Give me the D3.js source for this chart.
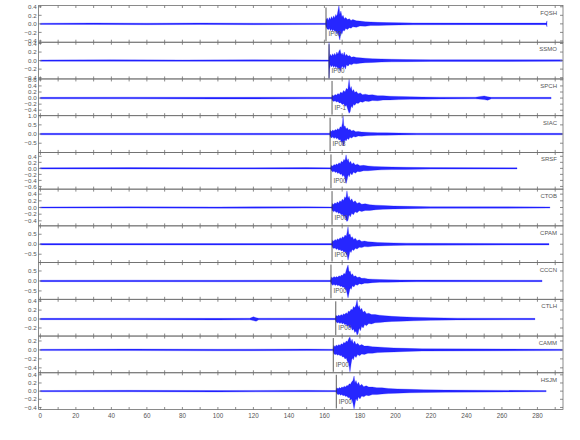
<!DOCTYPE html>
<html>
<head>
<meta charset="utf-8">
<script src="https://cdn.jsdelivr.net/npm/d3@7"></script>
<style>
  body { margin: 0; background: #fff; }
  svg text { font-family: "Liberation Sans", Arial, sans-serif; }
</style>
</head>
<body>
<div id="chart"></div>
<script>
// station names, top to bottom
const stations = ['FQSH', 'SSMO', 'SPCH', 'SIAC', 'SRSF', 'CTOB', 'CPAM', 'CCCN', 'CTLH', 'CAMM', 'HSJM'];

// y limits of each panel [min, max]
const yLimits = [
    [-0.43, 0.43], [-0.43, 0.43], [-0.58, 0.63], [-1.0, 1.0], [-0.69, 0.53], [-0.55, 0.55],
    [-0.92, 0.92], [-0.92, 0.92], [-0.38, 0.44], [-0.51, 0.31], [-0.45, 0.45]
];

// y tick labels of each panel
const yTicks = [
    [0.4, 0.2, 0, -0.2, -0.4], [0.4, 0.2, 0, -0.2, -0.4], [0.6, 0.4, 0.2, 0, -0.2, -0.4],
    [1.0, 0.5, 0, -0.5], [0.4, 0.2, 0, -0.2, -0.4, -0.6], [0.4, 0.2, 0, -0.2, -0.4],
    [0.5, 0, -0.5], [0.5, 0, -0.5], [0.4, 0.2, 0, -0.2], [0.2, 0, -0.2, -0.4], [0.4, 0.2, 0, -0.2, -0.4]
];

// P arrival picks (seconds) and their labels
const pickTimes = [160.9, 162.6, 164.3, 163.2, 163.7, 164.3, 164.3, 163.7, 166.4, 165.0, 166.7];
const pickLabels = ['IP00', 'IP00', 'IP-1', 'IP08', 'IP00', 'IP00', 'IP00', 'IP00', 'IP00', 'IP00', 'IP00'];

const xTickLabels = [0, 20, 40, 60, 80, 100, 120, 140, 160, 180, 200, 220, 240, 260, 280];

// trace envelopes: [time, upper, lower]
const traceFQSH = [[0,.015,-.015],[30,.02,-.015],[60,.015,-.02],[90,.02,-.015],[120,.015,-.02],[160.7,.015,-.015],[161,.1,-.08],[161.6,.14,-.12],[162.2,.08,-.14],[162.8,.15,-.1],[163.4,.1,-.16],[164,.17,-.12],[164.6,.12,-.17],[165.2,.19,-.13],[165.8,.14,-.18],[166.4,.22,-.16],[167,.18,-.24],[167.6,.3,-.2],[168.2,.43,-.3],[168.7,.22,-.38],[169.3,.3,-.2],[169.9,.16,-.24],[170.5,.2,-.15],[171.2,.12,-.17],[172,.15,-.11],[173,.1,-.13],[174,.12,-.09],[175,.08,-.1],[176,.1,-.07],[178,.07,-.08],[180,.065,-.05],[183,.05,-.055],[186,.045,-.04],[190,.035,-.04],[195,.03,-.03],[202,.028,-.025],[210,.022,-.022],[240,.018,-.018],[285,.018,-.018],[285.4,.07,-.07]];
const traceSSMO = [[0,.015,-.015],[40,.018,-.015],[80,.015,-.018],[120,.018,-.015],[162.4,.015,-.015],[162.6,.43,-.43],[162.9,.08,-.2],[163.4,.15,-.1],[164,.1,-.15],[164.6,.16,-.11],[165.2,.12,-.16],[165.8,.17,-.12],[166.4,.12,-.17],[167,.2,-.13],[167.6,.15,-.2],[168.2,.22,-.16],[168.8,.26,-.25],[169.4,.14,-.2],[170,.18,-.12],[170.6,.12,-.18],[171.2,.2,-.13],[171.8,.11,-.2],[172.5,.15,-.1],[173.3,.1,-.13],[174.2,.12,-.08],[175.2,.08,-.1],[176.5,.09,-.07],[178,.07,-.075],[180,.065,-.06],[183,.055,-.05],[187,.045,-.045],[192,.04,-.035],[198,.032,-.03],[206,.025,-.025],[220,.02,-.02],[294,.018,-.018]];
const traceSPCH = [[0,.025,-.025],[50,.03,-.025],[100,.025,-.03],[150,.03,-.025],[164.1,.025,-.025],[164.5,.1,-.08],[165.2,.07,-.11],[166,.12,-.09],[166.8,.09,-.13],[167.6,.15,-.11],[168.4,.12,-.16],[169.2,.2,-.15],[170,.16,-.21],[170.8,.25,-.19],[171.6,.2,-.27],[172.4,.32,-.24],[173.2,.28,-.38],[173.9,.62,-.5],[174.5,.3,-.45],[175.1,.38,-.26],[175.7,.22,-.32],[176.4,.28,-.2],[177.1,.18,-.24],[178,.22,-.16],[179,.14,-.18],[180.2,.17,-.12],[181.5,.11,-.14],[183,.13,-.1],[185,.1,-.11],[187,.11,-.08],[190,.08,-.09],[193,.08,-.065],[197,.06,-.06],[202,.055,-.05],[208,.045,-.04],[215,.035,-.035],[225,.03,-.03],[245,.028,-.025],[250,.07,-.05],[252,.04,-.07],[254,.025,-.025],[287.7,.025,-.025]];
const traceSIAC = [[0,.04,-.04],[60,.045,-.04],[120,.04,-.045],[163,.04,-.04],[163.4,.2,-.16],[164,.14,-.22],[164.7,.22,-.15],[165.4,.16,-.24],[166.1,.25,-.18],[166.8,.2,-.26],[167.5,.3,-.22],[168.2,.24,-.32],[168.9,.4,-.3],[169.6,.35,-.45],[170.2,.6,-.4],[170.5,1.0,-.65],[171,.4,-.55],[171.6,.45,-.3],[172.2,.28,-.38],[172.9,.34,-.24],[173.6,.22,-.3],[174.4,.26,-.18],[175.3,.17,-.22],[176.4,.2,-.14],[177.6,.13,-.16],[179,.14,-.11],[181,.11,-.12],[183.5,.1,-.09],[186,.09,-.085],[190,.075,-.07],[195,.065,-.06],[202,.055,-.05],[212,.045,-.045],[294,.04,-.04]];
const traceSRSF = [[0,.02,-.02],[50,.025,-.02],[100,.02,-.025],[150,.025,-.02],[163.5,.02,-.02],[164,.1,-.08],[164.7,.07,-.12],[165.4,.13,-.09],[166.1,.1,-.14],[166.8,.15,-.11],[167.5,.12,-.17],[168.2,.19,-.14],[168.9,.15,-.2],[169.6,.24,-.18],[170.3,.2,-.27],[171,.3,-.22],[171.6,.25,-.35],[172.2,.45,-.5],[172.8,.25,-.38],[173.4,.32,-.2],[174,.18,-.28],[174.7,.24,-.15],[175.5,.14,-.22],[176.4,.19,-.12],[177.4,.11,-.16],[178.6,.14,-.1],[180,.09,-.11],[182,.1,-.08],[184.5,.08,-.08],[188,.065,-.06],[192,.055,-.05],[198,.045,-.04],[206,.035,-.035],[220,.025,-.025],[268.5,.02,-.02]];
const traceCTOB = [[0,.018,-.018],[50,.02,-.018],[100,.018,-.02],[150,.02,-.018],[164.1,.018,-.018],[164.5,.12,-.1],[165.2,.09,-.13],[165.9,.14,-.1],[166.6,.11,-.15],[167.3,.17,-.13],[168,.13,-.18],[168.7,.2,-.16],[169.4,.17,-.22],[170.1,.25,-.2],[170.8,.21,-.27],[171.5,.32,-.25],[172.1,.28,-.36],[172.7,.5,-.42],[173.3,.28,-.38],[173.9,.34,-.22],[174.6,.2,-.28],[175.4,.26,-.17],[176.3,.16,-.22],[177.3,.2,-.13],[178.4,.12,-.16],[179.6,.15,-.1],[181,.1,-.12],[183,.11,-.09],[185.5,.085,-.09],[189,.07,-.065],[193,.06,-.055],[199,.045,-.045],[207,.035,-.035],[220,.025,-.025],[287,.018,-.018]];
const traceCPAM = [[0,.035,-.035],[50,.04,-.035],[100,.035,-.04],[150,.04,-.035],[164.1,.035,-.035],[164.6,.2,-.17],[165.3,.15,-.22],[166,.24,-.18],[166.7,.19,-.26],[167.4,.28,-.22],[168.1,.23,-.3],[168.8,.33,-.26],[169.5,.27,-.34],[170.2,.38,-.3],[170.9,.33,-.4],[171.6,.46,-.36],[172.3,.4,-.5],[172.8,.6,-.55],[173.3,.88,-.8],[173.8,.45,-.62],[174.4,.52,-.34],[175,.32,-.42],[175.7,.38,-.26],[176.5,.24,-.32],[177.4,.3,-.2],[178.4,.18,-.24],[179.6,.22,-.15],[181,.14,-.17],[182.6,.16,-.12],[184.5,.12,-.13],[187,.11,-.1],[190,.09,-.09],[194,.08,-.075],[199,.065,-.06],[206,.055,-.05],[215,.045,-.045],[286.5,.035,-.035]];
const traceCCCN = [[0,.035,-.035],[50,.04,-.035],[100,.035,-.04],[150,.04,-.035],[163.5,.035,-.035],[164,.2,-.16],[164.7,.15,-.22],[165.4,.22,-.17],[166.1,.17,-.23],[166.8,.22,-.18],[167.5,.18,-.24],[168.2,.26,-.2],[168.9,.22,-.28],[169.6,.3,-.25],[170.3,.27,-.32],[171,.38,-.3],[171.7,.34,-.42],[172.4,.58,-.48],[173.3,.8,-.85],[173.9,.45,-.6],[174.5,.5,-.35],[175.1,.3,-.42],[175.8,.36,-.24],[176.6,.22,-.3],[177.5,.26,-.18],[178.5,.17,-.22],[179.7,.2,-.14],[181,.13,-.16],[182.6,.14,-.11],[184.5,.1,-.11],[187,.09,-.085],[191,.075,-.07],[196,.06,-.06],[203,.05,-.05],[212,.045,-.04],[282.6,.035,-.035]];
const traceCTLH = [[0,.015,-.015],[50,.02,-.015],[100,.015,-.02],[118,.018,-.018],[120,.05,-.035],[121.5,.03,-.05],[123,.018,-.018],[150,.02,-.015],[166.2,.015,-.015],[166.6,.08,-.06],[167.3,.06,-.09],[168,.09,-.07],[168.7,.07,-.1],[169.4,.1,-.08],[170.1,.08,-.11],[170.8,.12,-.09],[171.5,.1,-.13],[172.2,.14,-.11],[172.9,.12,-.16],[173.6,.18,-.14],[174.3,.16,-.2],[175,.22,-.18],[175.7,.2,-.25],[176.4,.28,-.22],[177.1,.25,-.3],[177.8,.32,-.27],[178.4,.43,-.36],[179,.26,-.32],[179.6,.3,-.2],[180.3,.2,-.26],[181,.24,-.16],[181.8,.15,-.2],[182.7,.18,-.12],[183.7,.12,-.15],[185,.13,-.1],[186.5,.1,-.11],[188.5,.1,-.085],[191,.085,-.08],[194,.075,-.065],[198,.06,-.055],[203,.05,-.05],[210,.04,-.04],[220,.03,-.03],[235,.02,-.02],[278.6,.015,-.015]];
const traceCAMM = [[0,.015,-.015],[50,.02,-.015],[100,.015,-.02],[150,.02,-.015],[164.8,.015,-.015],[165.3,.1,-.08],[166,.07,-.11],[166.7,.11,-.09],[167.4,.09,-.12],[168.1,.12,-.1],[168.8,.1,-.13],[169.5,.14,-.12],[170.2,.12,-.16],[170.9,.17,-.15],[171.6,.15,-.2],[172.3,.2,-.18],[173,.18,-.26],[173.7,.25,-.3],[174.4,.29,-.49],[175,.18,-.32],[175.6,.24,-.18],[176.3,.14,-.22],[177,.2,-.13],[177.8,.12,-.17],[178.7,.15,-.1],[179.8,.1,-.13],[181,.12,-.09],[182.5,.085,-.1],[184.5,.09,-.075],[187,.07,-.075],[190,.065,-.06],[194,.055,-.05],[199,.045,-.045],[206,.035,-.035],[215,.025,-.025],[294,.015,-.015]];
const traceHSJM = [[0,.015,-.015],[50,.02,-.015],[100,.015,-.02],[150,.02,-.015],[166.5,.015,-.015],[167,.08,-.06],[167.7,.06,-.09],[168.4,.09,-.07],[169.1,.07,-.1],[169.8,.1,-.08],[170.5,.09,-.11],[171.2,.12,-.1],[171.9,.1,-.13],[172.6,.14,-.12],[173.3,.13,-.16],[174,.18,-.15],[174.7,.17,-.21],[175.4,.23,-.2],[176.1,.26,-.3],[176.7,.37,-.44],[177.2,.2,-.32],[177.8,.26,-.18],[178.5,.16,-.24],[179.2,.22,-.14],[180,.13,-.19],[181,.17,-.12],[182.2,.11,-.14],[183.5,.13,-.1],[185,.1,-.11],[187,.1,-.085],[189.5,.085,-.085],[192.5,.08,-.07],[196,.065,-.06],[201,.055,-.05],[208,.045,-.04],[216,.035,-.035],[228,.025,-.025],[284.9,.015,-.015]];

const traces = [traceFQSH, traceSSMO, traceSPCH, traceSIAC, traceSRSF, traceCTOB,
    traceCPAM, traceCCCN, traceCTLH, traceCAMM, traceHSJM];

var width = 580, height = 440;
var margin = {top: 5.5, right: 17, bottom: 30.5, left: 38.6};
var panelHeight = (height - margin.top - margin.bottom) / stations.length;
var axisColor = '#6e6e6e';
var textColor = '#555';

var svg = d3.select('#chart').append('svg')
    .attr('width', width)
    .attr('height', height);

var x = d3.scaleLinear().domain([-1, 294.4]).range([margin.left, width - margin.right]);
var minorTicks = d3.range(0, 295, 10);

stations.forEach(function (name, i) {
    var top = margin.top + i * panelHeight;
    var bottom = top + panelHeight;
    var y = d3.scaleLinear().domain(yLimits[i]).range([bottom, top]);
    var g = svg.append('g').attr('class', 'panel');

    // trace
    var area = d3.area()
        .x(function (d) { return x(d[0]); })
        .y0(function (d) { return y(d[2]); })
        .y1(function (d) { return y(d[1]); });

    g.append('path')
        .datum(traces[i])
        .attr('d', area)
        .attr('fill', '#0000ff')
        .attr('fill-opacity', 0.85)
        .attr('stroke', '#0000ff')
        .attr('stroke-opacity', 0.6)
        .attr('stroke-width', 0.4);

    // pick line and label
    var px = x(pickTimes[i]);
    g.append('line')
        .attr('x1', px).attr('x2', px)
        .attr('y1', top + 2).attr('y2', bottom - 1)
        .attr('stroke', '#333')
        .attr('stroke-width', 0.8);

    g.append('text')
        .attr('x', px + 2.5)
        .attr('y', bottom - 6)
        .attr('font-size', '6.3px')
        .attr('fill', textColor)
        .text(pickLabels[i]);

    // panel box
    g.append('rect')
        .attr('x', margin.left).attr('y', top)
        .attr('width', width - margin.right - margin.left)
        .attr('height', panelHeight)
        .attr('fill', 'none')
        .attr('stroke', axisColor)
        .attr('stroke-width', 0.8);

    // x ticks on the top and bottom edges, pointing inward
    minorTicks.forEach(function (t) {
        g.append('line')
            .attr('x1', x(t)).attr('x2', x(t))
            .attr('y1', top).attr('y2', top + 2.5)
            .attr('stroke', axisColor).attr('stroke-width', 0.8);
        g.append('line')
            .attr('x1', x(t)).attr('x2', x(t))
            .attr('y1', bottom).attr('y2', bottom - 2.5)
            .attr('stroke', axisColor).attr('stroke-width', 0.8);
    });

    // y ticks on the left and right edges
    yTicks[i].forEach(function (v) {
        var ty = y(v);
        g.append('line')
            .attr('x1', margin.left).attr('x2', margin.left + 3)
            .attr('y1', ty).attr('y2', ty)
            .attr('stroke', axisColor).attr('stroke-width', 0.8);
        g.append('line')
            .attr('x1', width - margin.right).attr('x2', width - margin.right - 3)
            .attr('y1', ty).attr('y2', ty)
            .attr('stroke', axisColor).attr('stroke-width', 0.8);
        g.append('text')
            .attr('x', margin.left - 2)
            .attr('y', ty + 2.2)
            .attr('text-anchor', 'end')
            .attr('font-size', '6.2px')
            .attr('fill', textColor)
            .text(d3.format('.1f')(v).replace('-', '\u2212'));
    });

    // station name
    g.append('text')
        .attr('x', width - margin.right - 6)
        .attr('y', top + 9)
        .attr('text-anchor', 'end')
        .attr('font-size', '6px')
        .attr('fill', textColor)
        .text(name);
});

// bottom time axis labels
var axisY = height - margin.bottom;
svg.append('g')
    .selectAll('text')
    .data(xTickLabels)
    .enter().append('text')
    .attr('x', function (d) { return x(d); })
    .attr('y', axisY + 8)
    .attr('text-anchor', 'middle')
    .attr('font-size', '6.3px')
    .attr('fill', textColor)
    .text(function (d) { return d; });
</script>
</body>
</html>
